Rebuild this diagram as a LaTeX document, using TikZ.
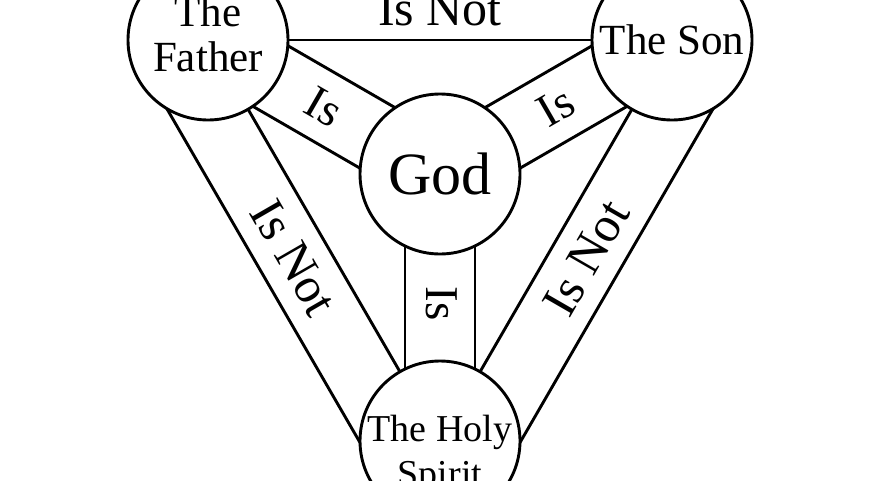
\documentclass[tikz,border=0pt]{standalone}
\usepackage{fontspec}
\setmainfont{Liberation Serif}
\usetikzlibrary{calc}

\begin{document}
\begin{tikzpicture}[x=1pt, y=-1pt,
    disc/.style={circle, draw=black, line width=2.9pt, fill=white,
      minimum size=160pt, inner sep=0pt, align=center,
      font=\fontsize{43}{45}\selectfont},
    band/.style={line width=2.9pt},
    lab/.style={inner sep=0pt, font=\fontsize{47}{48}\selectfont}]
  \useasboundingbox (0,0) rectangle (880,480);
  \fill[white] (0,0) rectangle (880,480);
  \clip (0,0) rectangle (880,480);
  % centres of the four circles
  \coordinate (F) at (208,40);
  \coordinate (S) at (672,40);
  \coordinate (H) at (440,441);
  \coordinate (G) at (440,174);
  % outer bands (Is Not)
  \draw[band] (F) -- (S);
  \draw[band] ($(F)!70pt!90:(S)$) -- ($(S)!70pt!-90:(F)$);
  \draw[band] (F) -- (H);
  \draw[band] ($(F)!70pt!-90:(H)$) -- ($(H)!70pt!90:(F)$);
  \draw[band] (S) -- (H);
  \draw[band] ($(S)!70pt!90:(H)$) -- ($(H)!70pt!-90:(S)$);
  % spokes (Is)
  \foreach \c in {F,S,H} {
    \draw[band] ($(G)!35pt!90:(\c)$) -- ($(\c)!35pt!-90:(G)$);
    \draw[band] ($(G)!35pt!-90:(\c)$) -- ($(\c)!35pt!90:(G)$);
  }
  % circles
  \node[disc] (father) at (F) {The\\Father\rule[-12pt]{0pt}{12pt}};
  \node[disc] (son)    at (S) {The Son};
  \node[disc] (spirit) at (H) {};
  \node[align=center, inner sep=0pt, font=\fontsize{38}{45}\selectfont]
    (spiritTxt) at ([yshift=-14pt]spirit.center) {The Holy\\Spirit};
  \node[disc, font=\fontsize{60}{60}\selectfont] (god) at (G) {God};
  % labels
  \path ($(F)!35pt!90:(S)$) -- node[lab, yshift=-4pt, font=\fontsize{50}{50}\selectfont] (fsLab) {Is Not} ($(S)!35pt!-90:(F)$);
  \path ($(F)!35pt!-90:(H)$) -- node[lab, rotate=-60, font=\fontsize{50}{50}\selectfont] (fhLab) {Is Not} ($(H)!35pt!90:(F)$);
  \path ($(S)!35pt!90:(H)$) -- node[lab, rotate=60, font=\fontsize{50}{50}\selectfont] (shLab) {Is Not} ($(H)!35pt!-90:(S)$);
  \path (father) -- node[lab, rotate=-30] (fgLab) {Is} (god);
  \path (son) -- node[lab, rotate=30] (sgLab) {Is} (god);
  \path (god) -- node[lab, rotate=-90, yshift=2pt, xshift=-4pt] (hgLab) {Is} (spirit);
\end{tikzpicture}
\end{document}
